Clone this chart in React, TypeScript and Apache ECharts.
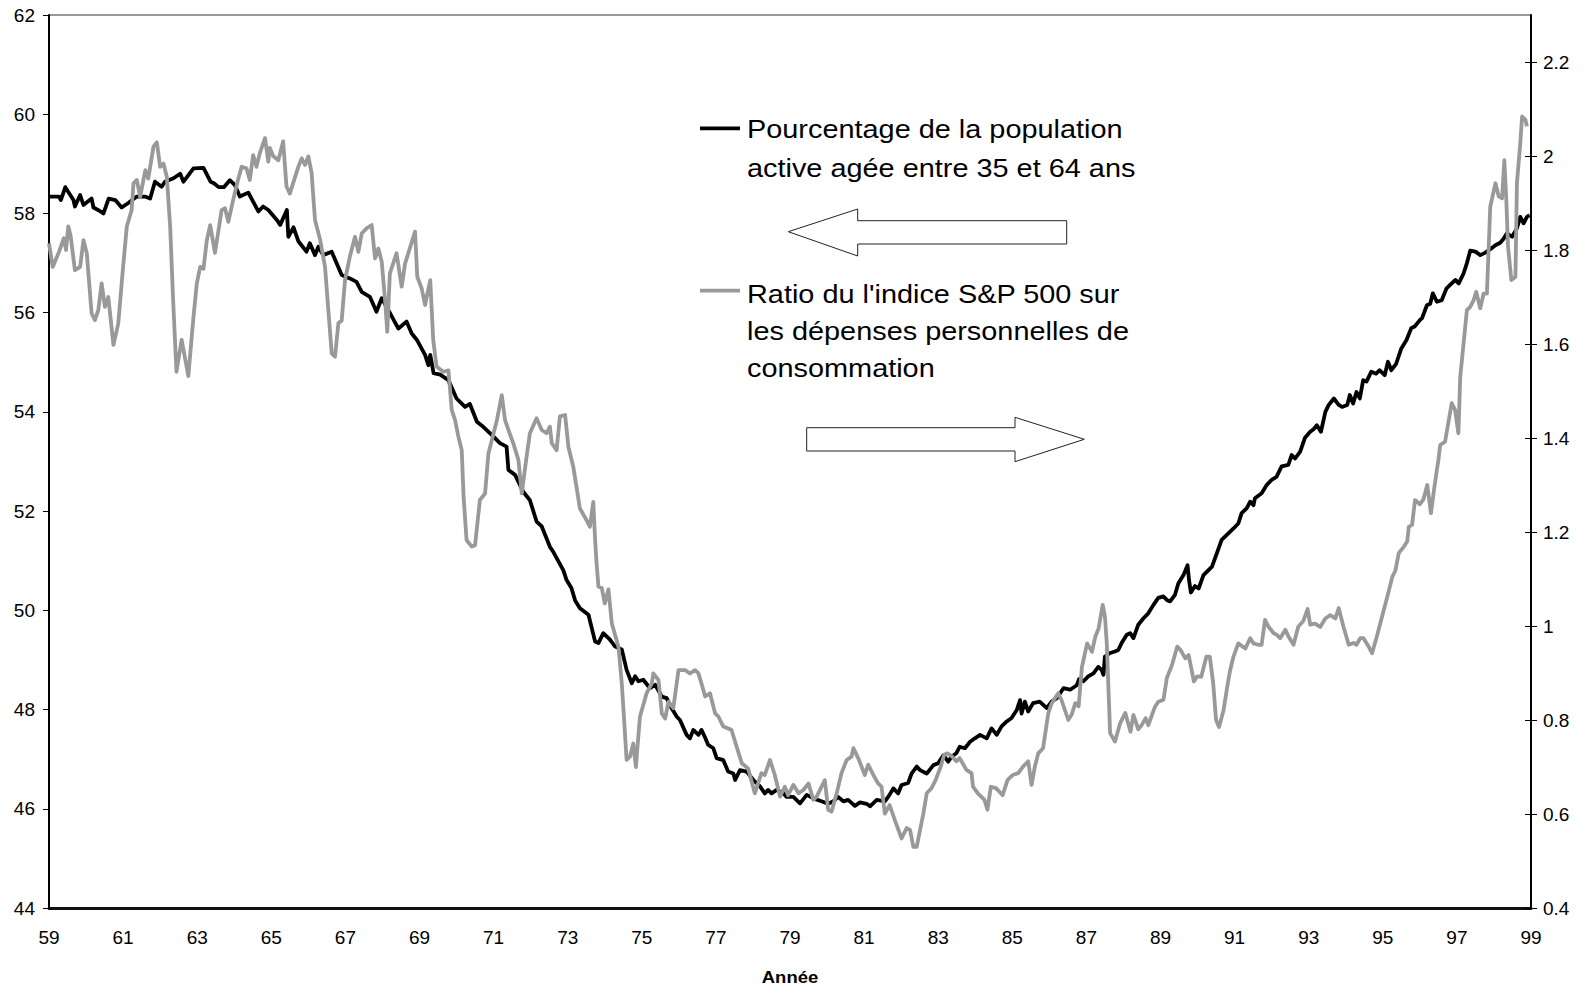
import React, { useEffect, useRef } from "react";
import * as echarts from "echarts";

// Pourcentage de la population active âgée entre 35 et 64 ans (left axis)
const populationShare: [number, number][] = [
  [1959.0, 58.34], [1959.27, 58.34], [1959.32, 58.27], [1959.44, 58.53], [1959.66, 58.27], [1959.7, 58.14],
  [1959.84, 58.37], [1959.93, 58.17], [1960.15, 58.3], [1960.2, 58.12], [1960.39, 58.04], [1960.47, 58.0],
  [1960.61, 58.3], [1960.79, 58.27], [1960.96, 58.12], [1961.14, 58.21], [1961.37, 58.34], [1961.59, 58.34],
  [1961.73, 58.3], [1961.86, 58.64], [1962.04, 58.54], [1962.13, 58.64], [1962.36, 58.71], [1962.54, 58.8],
  [1962.63, 58.64], [1962.9, 58.91], [1963.17, 58.92], [1963.36, 58.64], [1963.45, 58.61], [1963.58, 58.53],
  [1963.72, 58.53], [1963.88, 58.67], [1964.02, 58.57], [1964.15, 58.34], [1964.38, 58.42], [1964.65, 58.04],
  [1964.78, 58.14], [1964.92, 58.07], [1965.15, 57.87], [1965.24, 57.77], [1965.42, 58.07], [1965.46, 57.53],
  [1965.6, 57.72], [1965.73, 57.44], [1965.95, 57.23], [1966.04, 57.4], [1966.18, 57.16], [1966.27, 57.33],
  [1966.4, 57.16], [1966.63, 57.23], [1966.76, 57.0], [1966.9, 56.76], [1967.12, 56.69], [1967.3, 56.62],
  [1967.44, 56.42], [1967.66, 56.32], [1967.84, 56.02], [1967.98, 56.29], [1968.16, 56.05], [1968.43, 55.68],
  [1968.65, 55.82], [1968.79, 55.58], [1968.93, 55.45], [1969.15, 55.15], [1969.24, 54.94], [1969.29, 55.15],
  [1969.38, 54.78], [1969.56, 54.75], [1969.78, 54.64], [1970.0, 54.27], [1970.23, 54.1], [1970.36, 54.16],
  [1970.55, 53.8], [1970.72, 53.7], [1971.0, 53.5], [1971.17, 53.37], [1971.35, 53.3], [1971.4, 52.83],
  [1971.58, 52.73], [1971.8, 52.39], [1971.98, 52.22], [1972.16, 51.79], [1972.3, 51.69], [1972.52, 51.28],
  [1972.61, 51.18], [1972.88, 50.81], [1972.97, 50.61], [1973.1, 50.45], [1973.2, 50.2], [1973.33, 50.04],
  [1973.56, 49.91], [1973.74, 49.37], [1973.83, 49.34], [1973.96, 49.54], [1974.14, 49.41], [1974.28, 49.27],
  [1974.46, 49.21], [1974.59, 48.8], [1974.73, 48.53], [1974.82, 48.67], [1974.91, 48.57], [1975.04, 48.6],
  [1975.22, 48.43], [1975.36, 48.5], [1975.54, 48.26], [1975.67, 48.23], [1975.81, 48.02], [1975.94, 47.86],
  [1976.03, 47.79], [1976.21, 47.49], [1976.3, 47.42], [1976.39, 47.59], [1976.53, 47.49], [1976.61, 47.59],
  [1976.7, 47.45], [1976.79, 47.29], [1976.93, 47.22], [1977.02, 47.02], [1977.2, 46.98], [1977.33, 46.75],
  [1977.47, 46.71], [1977.52, 46.58], [1977.65, 46.78], [1977.83, 46.75], [1978.01, 46.58], [1978.19, 46.45],
  [1978.32, 46.31], [1978.41, 46.38], [1978.5, 46.31], [1978.64, 46.38], [1978.82, 46.31], [1978.91, 46.24],
  [1979.09, 46.24], [1979.27, 46.11], [1979.45, 46.28], [1979.63, 46.21], [1979.81, 46.16], [1980.03, 46.1],
  [1980.17, 46.15], [1980.3, 46.24], [1980.44, 46.15], [1980.57, 46.18], [1980.75, 46.06], [1980.89, 46.13],
  [1981.07, 46.1], [1981.16, 46.05], [1981.34, 46.18], [1981.56, 46.15], [1981.65, 46.24], [1981.79, 46.41],
  [1981.92, 46.31], [1982.01, 46.48], [1982.19, 46.52], [1982.28, 46.71], [1982.42, 46.85], [1982.51, 46.78],
  [1982.69, 46.71], [1982.87, 46.88], [1983.0, 46.92], [1983.14, 47.08], [1983.27, 46.95], [1983.36, 47.05],
  [1983.49, 47.12], [1983.58, 47.25], [1983.72, 47.22], [1983.86, 47.35], [1983.99, 47.42], [1984.13, 47.49],
  [1984.31, 47.42], [1984.44, 47.62], [1984.58, 47.49], [1984.71, 47.66], [1984.85, 47.76], [1984.98, 47.83],
  [1985.12, 47.99], [1985.21, 48.19], [1985.25, 47.92], [1985.34, 48.16], [1985.43, 47.96], [1985.56, 48.13],
  [1985.74, 48.16], [1985.93, 48.03], [1986.06, 48.16], [1986.2, 48.23], [1986.38, 48.43], [1986.56, 48.4],
  [1986.74, 48.49], [1986.8, 48.61], [1986.92, 48.57], [1987.05, 48.67], [1987.19, 48.73], [1987.32, 48.86],
  [1987.41, 48.8], [1987.46, 48.7], [1987.5, 49.07], [1987.64, 49.14], [1987.77, 49.17], [1987.86, 49.2],
  [1987.95, 49.34], [1988.09, 49.51], [1988.18, 49.54], [1988.27, 49.44], [1988.4, 49.71], [1988.54, 49.84],
  [1988.67, 49.94], [1988.81, 50.11], [1988.94, 50.25], [1989.08, 50.28], [1989.17, 50.21], [1989.26, 50.18],
  [1989.39, 50.31], [1989.48, 50.54], [1989.62, 50.71], [1989.73, 50.91], [1989.77, 50.61], [1989.82, 50.36],
  [1989.93, 50.49], [1990.03, 50.44], [1990.16, 50.71], [1990.39, 50.88], [1990.52, 51.15], [1990.65, 51.42],
  [1990.79, 51.52], [1990.97, 51.65], [1991.1, 51.75], [1991.19, 51.96], [1991.33, 52.06], [1991.42, 52.19],
  [1991.51, 52.12], [1991.55, 52.26], [1991.73, 52.36], [1991.87, 52.53], [1992.0, 52.63], [1992.13, 52.69],
  [1992.27, 52.9], [1992.45, 52.93], [1992.54, 53.13], [1992.63, 53.06], [1992.77, 53.2], [1992.9, 53.48],
  [1993.04, 53.6], [1993.13, 53.65], [1993.22, 53.73], [1993.33, 53.6], [1993.45, 54.0], [1993.54, 54.14],
  [1993.68, 54.27], [1993.81, 54.14], [1993.9, 54.1], [1994.04, 54.14], [1994.11, 54.34], [1994.2, 54.17],
  [1994.29, 54.4], [1994.38, 54.27], [1994.47, 54.64], [1994.56, 54.61], [1994.69, 54.81], [1994.82, 54.77],
  [1994.91, 54.84], [1995.05, 54.74], [1995.14, 55.01], [1995.23, 54.84], [1995.36, 54.97], [1995.5, 55.28],
  [1995.64, 55.45], [1995.77, 55.69], [1995.86, 55.72], [1996.0, 55.85], [1996.06, 55.89], [1996.19, 56.15],
  [1996.28, 56.18], [1996.35, 56.39], [1996.46, 56.22], [1996.59, 56.25], [1996.72, 56.49], [1996.86, 56.59],
  [1996.96, 56.66], [1997.05, 56.59], [1997.18, 56.79], [1997.27, 57.0], [1997.36, 57.25], [1997.5, 57.23],
  [1997.63, 57.16], [1997.77, 57.21], [1997.9, 57.28], [1998.04, 57.36], [1998.17, 57.41], [1998.26, 57.49],
  [1998.35, 57.6], [1998.49, 57.53], [1998.62, 57.7], [1998.71, 57.93], [1998.8, 57.8], [1998.89, 57.93],
  [1998.96, 57.97],
];

// Ratio de l'indice S&P 500 sur les dépenses personnelles de consommation (right axis)
const spRatio: [number, number][] = [
  [1959.0, 1.814], [1959.1, 1.764], [1959.27, 1.796], [1959.4, 1.825], [1959.46, 1.8], [1959.52, 1.85],
  [1959.58, 1.832], [1959.7, 1.757], [1959.84, 1.764], [1959.93, 1.821], [1960.02, 1.793], [1960.15, 1.665],
  [1960.24, 1.651], [1960.33, 1.672], [1960.42, 1.729], [1960.51, 1.679], [1960.6, 1.7], [1960.74, 1.598],
  [1960.87, 1.644], [1961.0, 1.764], [1961.1, 1.85], [1961.23, 1.885], [1961.28, 1.942], [1961.37, 1.949],
  [1961.46, 1.913], [1961.6, 1.97], [1961.68, 1.952], [1961.82, 2.02], [1961.91, 2.029], [1962.0, 1.977],
  [1962.09, 1.984], [1962.18, 1.956], [1962.27, 1.85], [1962.35, 1.694], [1962.44, 1.541], [1962.58, 1.609],
  [1962.76, 1.532], [1962.9, 1.658], [1962.99, 1.729], [1963.08, 1.764], [1963.17, 1.76], [1963.26, 1.821],
  [1963.35, 1.853], [1963.48, 1.794], [1963.66, 1.885], [1963.75, 1.889], [1963.84, 1.86], [1963.97, 1.906],
  [1964.1, 1.949], [1964.2, 1.977], [1964.33, 1.974], [1964.42, 1.949], [1964.51, 2.002], [1964.6, 1.977],
  [1964.69, 2.006], [1964.83, 2.038], [1964.92, 1.988], [1964.96, 2.017], [1965.05, 2.0], [1965.19, 1.991],
  [1965.32, 2.031], [1965.41, 1.935], [1965.5, 1.92], [1965.64, 1.955], [1965.73, 1.977], [1965.82, 1.995],
  [1965.91, 1.981], [1966.0, 1.999], [1966.09, 1.963], [1966.14, 1.906], [1966.18, 1.864], [1966.32, 1.821],
  [1966.45, 1.764], [1966.54, 1.672], [1966.63, 1.58], [1966.72, 1.573], [1966.81, 1.644], [1966.9, 1.65],
  [1966.99, 1.736], [1967.12, 1.786], [1967.26, 1.828], [1967.35, 1.796], [1967.44, 1.835], [1967.57, 1.846],
  [1967.71, 1.853], [1967.8, 1.782], [1967.89, 1.803], [1967.98, 1.775], [1968.07, 1.694], [1968.13, 1.626],
  [1968.2, 1.75], [1968.38, 1.793], [1968.52, 1.722], [1968.61, 1.771], [1968.88, 1.839], [1968.94, 1.743],
  [1969.06, 1.718], [1969.15, 1.683], [1969.29, 1.736], [1969.37, 1.609], [1969.46, 1.552], [1969.64, 1.541],
  [1969.78, 1.544], [1969.87, 1.46], [1969.96, 1.438], [1970.05, 1.403], [1970.14, 1.374], [1970.19, 1.275],
  [1970.27, 1.183], [1970.41, 1.169], [1970.5, 1.172], [1970.63, 1.268], [1970.77, 1.282], [1970.86, 1.367],
  [1971.0, 1.41], [1971.09, 1.438], [1971.22, 1.491], [1971.31, 1.438], [1971.4, 1.417], [1971.53, 1.389],
  [1971.67, 1.353], [1971.76, 1.282], [1971.89, 1.36], [1971.98, 1.41], [1972.16, 1.442], [1972.3, 1.417],
  [1972.43, 1.41], [1972.52, 1.424], [1972.57, 1.389], [1972.7, 1.374], [1972.79, 1.446], [1972.93, 1.449],
  [1973.02, 1.381], [1973.15, 1.339], [1973.33, 1.25], [1973.51, 1.225], [1973.6, 1.211], [1973.69, 1.264],
  [1973.74, 1.183], [1973.78, 1.133], [1973.83, 1.084], [1973.92, 1.081], [1974.0, 1.048], [1974.1, 1.078],
  [1974.19, 1.006], [1974.37, 0.956], [1974.46, 0.878], [1974.59, 0.715], [1974.68, 0.722], [1974.77, 0.75],
  [1974.84, 0.7], [1974.95, 0.807], [1975.13, 0.857], [1975.27, 0.878], [1975.31, 0.899], [1975.45, 0.885],
  [1975.54, 0.814], [1975.63, 0.803], [1975.72, 0.839], [1975.85, 0.825], [1975.99, 0.906], [1976.17, 0.906],
  [1976.3, 0.899], [1976.44, 0.906], [1976.53, 0.899], [1976.61, 0.878], [1976.71, 0.85], [1976.84, 0.857],
  [1976.98, 0.814], [1977.07, 0.807], [1977.2, 0.786], [1977.42, 0.779], [1977.56, 0.743], [1977.7, 0.708],
  [1977.87, 0.697], [1978.05, 0.644], [1978.23, 0.687], [1978.32, 0.683], [1978.46, 0.715], [1978.59, 0.683],
  [1978.73, 0.637], [1978.86, 0.658], [1978.95, 0.64], [1979.09, 0.662], [1979.23, 0.644], [1979.36, 0.651],
  [1979.5, 0.665], [1979.63, 0.63], [1979.72, 0.637], [1979.94, 0.672], [1980.03, 0.609], [1980.12, 0.605],
  [1980.26, 0.644], [1980.39, 0.687], [1980.53, 0.715], [1980.66, 0.722], [1980.71, 0.74], [1980.84, 0.719],
  [1980.93, 0.701], [1981.02, 0.683], [1981.11, 0.705], [1981.25, 0.683], [1981.38, 0.665], [1981.47, 0.658],
  [1981.56, 0.601], [1981.69, 0.619], [1981.83, 0.587], [1982.01, 0.548], [1982.15, 0.57], [1982.24, 0.566],
  [1982.33, 0.53], [1982.42, 0.53], [1982.51, 0.566], [1982.6, 0.601], [1982.69, 0.644], [1982.82, 0.655],
  [1982.93, 0.672], [1983.07, 0.701], [1983.16, 0.726], [1983.25, 0.729], [1983.38, 0.722], [1983.49, 0.712],
  [1983.58, 0.719], [1983.76, 0.694], [1983.9, 0.687], [1983.94, 0.658], [1984.07, 0.644], [1984.25, 0.63],
  [1984.33, 0.609], [1984.42, 0.658], [1984.56, 0.655], [1984.74, 0.64], [1984.87, 0.672], [1985.01, 0.683],
  [1985.16, 0.687], [1985.29, 0.701], [1985.43, 0.712], [1985.52, 0.662], [1985.61, 0.701], [1985.7, 0.729],
  [1985.83, 0.74], [1985.97, 0.814], [1986.06, 0.835], [1986.15, 0.846], [1986.24, 0.857], [1986.33, 0.842],
  [1986.51, 0.8], [1986.6, 0.811], [1986.7, 0.836], [1986.79, 0.829], [1986.88, 0.913], [1987.02, 0.963],
  [1987.15, 0.945], [1987.24, 0.977], [1987.33, 0.995], [1987.44, 1.045], [1987.5, 1.02], [1987.55, 0.963],
  [1987.64, 0.772], [1987.77, 0.754], [1987.91, 0.793], [1988.05, 0.815], [1988.19, 0.775], [1988.27, 0.811],
  [1988.4, 0.78], [1988.49, 0.789], [1988.6, 0.804], [1988.67, 0.789], [1988.85, 0.828], [1988.94, 0.839],
  [1989.08, 0.843], [1989.17, 0.889], [1989.31, 0.917], [1989.45, 0.956], [1989.54, 0.949], [1989.67, 0.931],
  [1989.76, 0.938], [1989.9, 0.882], [1989.99, 0.893], [1990.1, 0.892], [1990.24, 0.935], [1990.33, 0.935],
  [1990.42, 0.88], [1990.5, 0.8], [1990.58, 0.785], [1990.7, 0.82], [1990.8, 0.87], [1990.88, 0.906],
  [1990.97, 0.935], [1991.1, 0.963], [1991.29, 0.952], [1991.42, 0.974], [1991.51, 0.963], [1991.64, 0.96],
  [1991.73, 0.96], [1991.82, 1.013], [1991.91, 0.999], [1992.05, 0.985], [1992.14, 0.981], [1992.23, 0.974],
  [1992.37, 0.992], [1992.45, 0.978], [1992.59, 0.96], [1992.72, 0.999], [1992.85, 1.01], [1992.97, 1.036],
  [1993.04, 1.003], [1993.17, 1.005], [1993.31, 0.998], [1993.45, 1.016], [1993.58, 1.023], [1993.72, 1.016],
  [1993.81, 1.038], [1993.94, 0.998], [1994.08, 0.96], [1994.21, 0.964], [1994.29, 0.96], [1994.39, 0.974],
  [1994.48, 0.974], [1994.62, 0.956], [1994.71, 0.942], [1994.85, 0.981], [1994.98, 1.02], [1995.12, 1.062],
  [1995.26, 1.105], [1995.34, 1.118], [1995.43, 1.155], [1995.57, 1.169], [1995.66, 1.18], [1995.7, 1.211],
  [1995.79, 1.215], [1995.87, 1.268], [1996.0, 1.259], [1996.1, 1.27], [1996.2, 1.3], [1996.3, 1.24],
  [1996.4, 1.3], [1996.5, 1.353], [1996.55, 1.385], [1996.68, 1.392], [1996.86, 1.474], [1996.95, 1.46],
  [1997.04, 1.41], [1997.09, 1.53], [1997.18, 1.601], [1997.27, 1.672], [1997.36, 1.679], [1997.45, 1.693],
  [1997.52, 1.711], [1997.63, 1.676], [1997.72, 1.707], [1997.81, 1.707], [1997.9, 1.892], [1998.04, 1.942],
  [1998.13, 1.914], [1998.22, 1.91], [1998.28, 1.991], [1998.33, 1.914], [1998.38, 1.807], [1998.47, 1.736],
  [1998.58, 1.743], [1998.62, 1.942], [1998.71, 2.027], [1998.76, 2.084], [1998.85, 2.077], [1998.89, 2.063],
];

const rightTicks = [0.4, 0.6, 0.8, 1.0, 1.2, 1.4, 1.6, 1.8, 2.0, 2.2];
const seriesNames = [
  ["Pourcentage de la population", "active agée entre 35 et 64 ans"],
  ["Ratio du l'indice S&P 500 sur", "les dépenses personnelles de", "consommation"],
];
const xAxisTitle = "Année";

const FONT = "'Liberation Sans', Arial, Helvetica, sans-serif";

export default function App() {
  const ref = useRef<HTMLDivElement>(null);

  useEffect(() => {
    if (!ref.current) return;
    const chart = echarts.init(ref.current, undefined, { renderer: "svg" });
    const textScale = 1.155;

    const legendText = (lines: string[], ys: number[]) =>
      lines.map((t, i) => ({
        type: "text",
        x: 747,
        y: ys[i],
        scaleX: textScale,
        style: {
          text: t,
          fill: "#000",
          font: `25px ${FONT}`,
          textAlign: "left",
          textVerticalAlign: "middle",
          verticalAlign: "middle",
        },
        z: 100,
      }));

    chart.setOption({
      animation: false,
      backgroundColor: "#fff",
      grid: {
        left: 49,
        right: 57,
        top: 15,
        bottom: 77,
        show: true,
        borderColor: "#333",
        borderWidth: 1,
        backgroundColor: "transparent",
      },
      xAxis: {
        type: "value",
        min: 1959,
        max: 1999,
        interval: 2,
        axisLine: { show: true, lineStyle: { color: "#111", width: 3 } },
        axisTick: { show: false },
        splitLine: { show: false },
        axisLabel: {
          margin: 20,
          color: "#000",
          fontSize: 19,
          fontFamily: FONT,
          formatter: (v: number) => String(v).slice(2),
        },
      },
      yAxis: [
        {
          type: "value",
          position: "left",
          min: 44,
          max: 62,
          interval: 2,
          axisLine: { show: true, lineStyle: { color: "#000", width: 2 } },
          axisTick: { show: true, length: 6, lineStyle: { color: "#000", width: 1 } },
          splitLine: { show: false },
          axisLabel: { margin: 14, color: "#000", fontSize: 19, fontFamily: FONT },
        },
        {
          type: "value",
          position: "right",
          min: 0.4,
          max: 2.3,
          interval: 0.2,
          axisLine: { show: true, onZero: false, lineStyle: { color: "#000", width: 2 } },
          axisTick: { show: true, length: 6, customValues: rightTicks, lineStyle: { color: "#000", width: 1 } },
          splitLine: { show: false },
          axisLabel: {
            margin: 12,
            color: "#000",
            fontSize: 19,
            fontFamily: FONT,
            customValues: rightTicks,
            formatter: (v: number) => String(Math.round(v * 10) / 10),
          },
        },
        {
          type: "value",
          position: "right",
          min: 0.4,
          max: 2.3,
          interval: 0.2,
          axisLine: { show: false },
          axisTick: { show: true, inside: true, length: 6, customValues: rightTicks, lineStyle: { color: "#000", width: 1 } },
          splitLine: { show: false },
          axisLabel: { show: false },
        },
      ],
      series: [
        {
          name: seriesNames[0].join(" "),
          type: "line",
          yAxisIndex: 0,
          data: populationShare,
          showSymbol: false,
          symbol: "none",
          lineStyle: { color: "#000", width: 3.8, join: "round" },
          z: 2,
        },
        {
          name: seriesNames[1].join(" "),
          type: "line",
          yAxisIndex: 1,
          data: spRatio,
          showSymbol: false,
          symbol: "none",
          lineStyle: { color: "#999999", width: 3.8, join: "round" },
          z: 3,
        },
      ],
      graphic: [
        {
          type: "line",
          shape: { x1: 700, y1: 128.3, x2: 740, y2: 128.3 },
          style: { stroke: "#000", lineWidth: 3.8 },
          z: 100,
        },
        {
          type: "line",
          shape: { x1: 700, y1: 290.7, x2: 740, y2: 290.7 },
          style: { stroke: "#999999", lineWidth: 3.8 },
          z: 100,
        },
        ...legendText(seriesNames[0], [129.5, 168.5]),
        ...legendText(seriesNames[1], [295, 332, 369]),
        {
          type: "polygon",
          shape: {
            points: [
              [788.3, 231.7], [857.7, 209], [857.7, 220.7], [1066.7, 220.7],
              [1066.7, 244], [857.7, 244], [857.7, 256],
            ],
          },
          style: { fill: "#fff", stroke: "#222", lineWidth: 1 },
          z: 100,
        },
        {
          type: "polygon",
          shape: {
            points: [
              [806.7, 427.7], [1015, 427.7], [1015, 417.3], [1084.3, 439.3],
              [1015, 461.7], [1015, 451], [806.7, 451],
            ],
          },
          style: { fill: "#fff", stroke: "#222", lineWidth: 1 },
          z: 100,
        },
        {
          type: "text",
          x: 790,
          y: 977,
          scaleX: textScale,
          style: {
            text: xAxisTitle,
            fill: "#000",
            font: `bold 16px ${FONT}`,
            textAlign: "center",
            textVerticalAlign: "middle",
            verticalAlign: "middle",
          },
          z: 100,
        },
      ],
    });

    return () => chart.dispose();
  }, []);

  return (
    <div
      ref={ref}
      style={{ position: "fixed", left: 0, top: 0, width: 1588, height: 985, background: "#fff" }}
    />
  );
}
